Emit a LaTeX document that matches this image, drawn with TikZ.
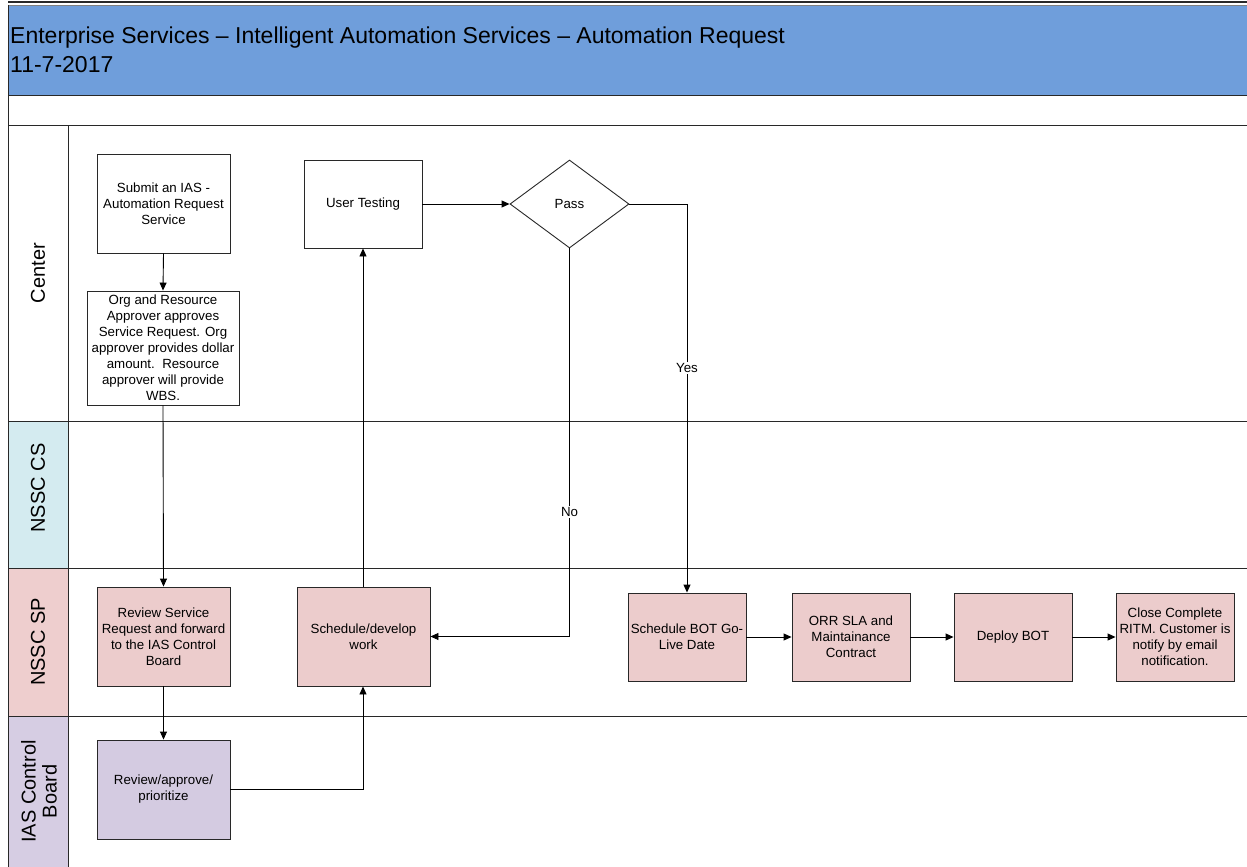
\documentclass[tikz,border=0pt]{standalone}
\usepackage{fontspec}
\setmainfont{Liberation Sans}
\usetikzlibrary{arrows.meta,shapes.geometric}
\definecolor{hdrblue}{RGB}{111,158,219}
\definecolor{lanecs}{RGB}{212,235,240}
\definecolor{lanesp}{RGB}{238,206,206}
\definecolor{laneib}{RGB}{214,205,227}
\definecolor{boxsp}{RGB}{236,204,204}
\definecolor{boxib}{RGB}{212,203,225}
\definecolor{rule}{RGB}{40,40,40}
\tikzset{
  proc/.style={draw=rule, line width=0.9pt, align=center, inner sep=2pt,
    font=\fontsize{13.3}{16}\selectfont},
  whitebox/.style={proc, fill=white},
  spbox/.style={proc, fill=boxsp},
  ibbox/.style={proc, fill=boxib},
  decision/.style={draw=rule, line width=0.9pt, diamond, aspect=1.35, fill=white,
    inner sep=0pt, minimum width=119pt, minimum height=88pt,
    font=\fontsize{13.3}{16}\selectfont},
  flow/.style={draw=black, line width=0.9pt, -{Triangle[length=8pt,width=7pt]}},
  lanelabel/.style={rotate=90, align=center, font=\fontsize{20}{21}\selectfont},
  edgelabel/.style={fill=white, inner sep=1pt, font=\fontsize{13.3}{15}\selectfont},
  laneline/.style={draw=rule, line width=1pt}
}
\begin{document}
\begin{tikzpicture}[x=1pt,y=-1pt]
\useasboundingbox (0,0) rectangle (1247,867);
% lane backgrounds
\fill[white] (0,0) rectangle (1247,867);
\fill[lanecs] (8,421) rectangle (68,568);
\fill[lanesp] (8,568) rectangle (68,716);
\fill[laneib] (8,716) rectangle (68,867);
% title band
\fill[hdrblue] (8,6) rectangle (1247,95);
\draw[draw=rule, line width=2.5pt] (8,2) -- (1247,2);
\draw[draw=gray, line width=0.8pt] (8,5.5) -- (1247,5.5);
\node[anchor=base west, align=left, inner sep=0pt,
  font=\fontsize{23}{29}\selectfont] (title) at (10,73)
  {Enterprise Services – Intelligent Automation Services – Automation Request\\11-7-2017};
% pool frame and lane separators
\draw[laneline] (8,5) -- (8,867);
\draw[laneline] (8,95) -- (1247,95);
\draw[laneline] (8,125) -- (1247,125);
\draw[laneline] (68,125) -- (68,867);
\draw[laneline] (8,421) -- (1247,421);
\draw[laneline] (8,568) -- (1247,568);
\draw[laneline] (8,716) -- (1247,716);
% lane names
\node[lanelabel] (lcenter) at (38,273) {Center};
\node[lanelabel] (lcs) at (38,488) {NSSC CS};
\node[lanelabel] (lsp) at (38,642) {NSSC SP};
\node[lanelabel] (lib) at (39,791.5) {IAS Control\\Board};
% process steps
\node[whitebox, minimum width=133pt, minimum height=99pt] (submit) at (163.5,203.5)
  {Submit an IAS -\\Automation Request\\Service};
\node[whitebox, minimum width=152pt, minimum height=114pt] (approve) at (163,348)
  {Org and Resource\\Approver approves\\Service Request. Org\\approver provides dollar\\amount.\ \ Resource\\approver will provide\\WBS.};
\node[whitebox, minimum width=118pt, minimum height=88pt] (usertest) at (363,204)
  {User Testing};
\node[decision] (pass) at (569.5,204) {Pass};
\node[spbox, minimum width=133pt, minimum height=99pt] (review) at (163.5,636.5)
  {Review Service\\Request and forward\\to the IAS Control\\Board};
\node[spbox, minimum width=133pt, minimum height=99pt] (develop) at (363.5,636.5)
  {Schedule/develop\\work};
\node[ibbox, minimum width=133pt, minimum height=99pt] (prioritize) at (163.5,789.5)
  {Review/approve/\\prioritize};
\node[spbox, minimum width=118pt, minimum height=88pt] (golive) at (687,637)
  {Schedule BOT Go-\\Live Date};
\node[spbox, minimum width=118pt, minimum height=88pt] (orr) at (851,637)
  {ORR SLA and\\Maintainance\\Contract};
\node[spbox, minimum width=118pt, minimum height=88pt] (deploy) at (1013,637)
  {Deploy BOT};
\node[spbox, minimum width=118pt, minimum height=88pt] (close) at (1175,637)
  {Close Complete\\RITM. Customer is\\notify by email\\notification.};
% bend points
\coordinate (c1) at (363,789.5);
\coordinate (c2) at (569.5,636.5);
\coordinate (c3) at (687,204);
% connectors
\draw[flow] (submit.south) -- (approve.north);
\draw[flow] (approve.south) -- (review.north);
\draw[flow] (review.south) -- (prioritize.north);
\draw[flow] (prioritize.east) -- (c1) -- (develop.south -| c1);
\draw[flow] (develop.north -| c1) -- (usertest.south -| c1);
\draw[flow] (usertest.east) -- (pass.west);
\draw[flow] (pass.south) -- (c2) -- (develop.east);
\draw[flow] (pass.east) -- (c3) -- (golive.north);
\node[edgelabel] (yes) at (687,368) {Yes};
\node[edgelabel] (no) at (569.5,512) {No};
\draw[flow] (golive.east) -- (orr.west);
\draw[flow] (orr.east) -- (deploy.west);
\draw[flow] (deploy.east) -- (close.west);
\end{tikzpicture}
\end{document}
